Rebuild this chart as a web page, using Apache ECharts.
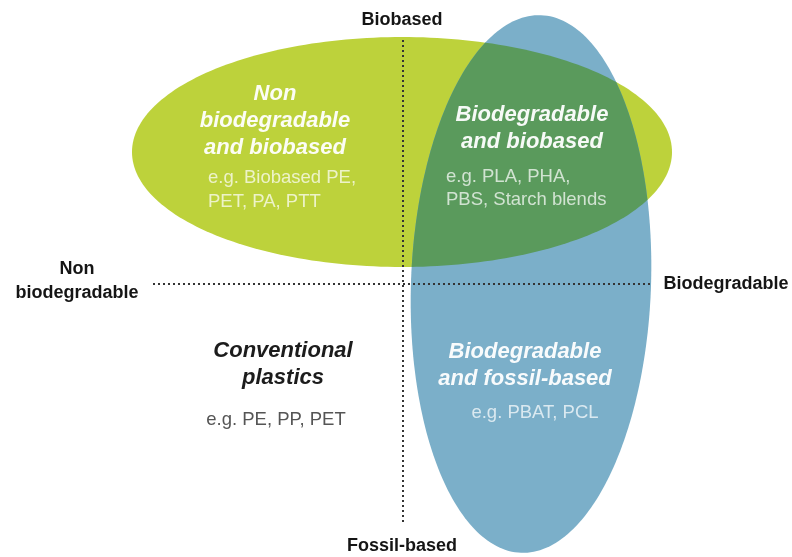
<!DOCTYPE html>
<html><head><meta charset="utf-8">
<script src="https://cdn.jsdelivr.net/npm/echarts@6/dist/echarts.min.js"></script>
<style>html,body{margin:0;padding:0;background:#fff}#c{width:792px;height:557px}</style>
</head><body><div id="c"></div>
<script>
// Ellipses: [centerX, centerY, radiusX, radiusY, rotationDeg] in diagram units
const greenEllipse = [402, 152, 270, 115, 0];
const blueEllipse = [531, 284, 120, 269, 2.1];
// Dotted axes
const verticalAxis = [[403, 40], [403, 525]];
const horizontalAxis = [[153, 284], [650, 284]];
// Axis end labels
const axisLabels = ['Biobased', 'Non\nbiodegradable', 'Biodegradable', 'Fossil-based'];
const axisLabelPos = [[402, 20], [77, 281], [726, 284], [402, 546]];
// Quadrant titles
const titles = ['Non\nbiodegradable\nand biobased', 'Biodegradable\nand biobased', 'Conventional\nplastics', 'Biodegradable\nand fossil-based'];
const titlePos = [[275, 121], [532, 128], [283, 364], [525, 365]];
// Examples
const examples = ['e.g. Biobased PE,\nPET, PA, PTT', 'e.g. PLA, PHA,\nPBS, Starch blends', 'e.g. PE, PP, PET', 'e.g. PBAT, PCL'];
const examplePos = [[208, 190], [446, 188.5], [276, 420], [535, 413]];

const FONT = "'Liberation Sans', Arial, Helvetica, sans-serif";
const ellipseColors = ['#bdd23b', '#7bafc9'];
const overlapColor = '#5a9a5c';

function ellipsePoints(e, n) {
  const [cx, cy, rx, ry, rot] = e;
  const th = rot * Math.PI / 180, c = Math.cos(th), s = Math.sin(th);
  const pts = [];
  for (let i = 0; i < n; i++) {
    const t = 2 * Math.PI * i / n;
    const ex = rx * Math.cos(t), ey = ry * Math.sin(t);
    pts.push([cx + ex * c - ey * s, cy + ex * s + ey * c]);
  }
  return pts;
}
function clipPoly(subject, clip) {
  let out = subject;
  for (let i = 0; i < clip.length; i++) {
    const a = clip[i], b = clip[(i + 1) % clip.length];
    const inside = p => (b[0] - a[0]) * (p[1] - a[1]) - (b[1] - a[1]) * (p[0] - a[0]) >= 0;
    const inter = (p, q) => {
      const x1 = p[0], y1 = p[1], x2 = q[0], y2 = q[1];
      const x3 = a[0], y3 = a[1], x4 = b[0], y4 = b[1];
      const d = (x1 - x2) * (y3 - y4) - (y1 - y2) * (x3 - x4);
      const t = ((x1 - x3) * (y3 - y4) - (y1 - y3) * (x3 - x4)) / d;
      return [x1 + t * (x2 - x1), y1 + t * (y2 - y1)];
    };
    const inp = out; out = [];
    for (let j = 0; j < inp.length; j++) {
      const cur = inp[j], prev = inp[(j + inp.length - 1) % inp.length];
      const ci = inside(cur), pi = inside(prev);
      if (ci) { if (!pi) out.push(inter(prev, cur)); out.push(cur); }
      else if (pi) out.push(inter(prev, cur));
    }
    if (!out.length) break;
  }
  return out;
}

const chart = echarts.init(document.getElementById('c'), null, {renderer: 'canvas'});

const textItems = [];
axisLabels.forEach((t, i) => textItems.push([axisLabelPos[i][0], axisLabelPos[i][1], 0, i]));
titles.forEach((t, i) => textItems.push([titlePos[i][0], titlePos[i][1], 1, i]));
examples.forEach((t, i) => textItems.push([examplePos[i][0], examplePos[i][1], 2, i]));

function textStyleFor(kind, i) {
  if (kind === 0) return {text: axisLabels[i], font: 'bold 18px ' + FONT, fill: '#151515', align: 'center', lineHeight: 24};
  if (kind === 1) return {text: titles[i], font: 'italic bold 22px ' + FONT, fill: i === 2 ? '#1c1c1c' : 'rgba(255,255,255,0.95)', align: 'center', lineHeight: 27};
  return {text: examples[i], font: '18.5px ' + FONT, fill: i === 2 ? '#555555' : 'rgba(255,255,255,0.72)', align: (i < 2 ? 'left' : 'center'), lineHeight: 23.5};
}

chart.setOption({
  animation: false,
  backgroundColor: '#ffffff',
  grid: {left: 0, right: 0, top: 0, bottom: 0},
  xAxis: {type: 'value', min: 0, max: 792, show: false},
  yAxis: {type: 'value', min: 0, max: 557, inverse: true, show: false},
  series: [
    {
      type: 'custom', coordinateSystem: 'cartesian2d', silent: true,
      data: [greenEllipse, blueEllipse],
      renderItem: (params, api) => {
        const e = [api.value(0), api.value(1), api.value(2), api.value(3), api.value(4)];
        const pts = ellipsePoints(e, 240).map(p => api.coord(p));
        return {type: 'polygon', shape: {points: pts}, style: {fill: ellipseColors[params.dataIndex]}};
      },
      z: 1
    },
    {
      type: 'custom', coordinateSystem: 'cartesian2d', silent: true,
      data: [[greenEllipse[0], greenEllipse[1]]],
      renderItem: (params, api) => {
        const inter = clipPoly(ellipsePoints(greenEllipse, 240), ellipsePoints(blueEllipse, 240));
        return {type: 'polygon', shape: {points: inter.map(p => api.coord(p))}, style: {fill: overlapColor}};
      },
      z: 2
    },
    {
      type: 'line', data: verticalAxis, symbol: 'none', silent: true, z: 3,
      lineStyle: {color: '#333', width: 2, type: [2, 3]}
    },
    {
      type: 'line', data: horizontalAxis, symbol: 'none', silent: true, z: 3,
      lineStyle: {color: '#333', width: 2, type: [2, 3]}
    },
    {
      type: 'custom', coordinateSystem: 'cartesian2d', silent: true, z: 4,
      data: textItems,
      renderItem: (params, api) => {
        const p = api.coord([api.value(0), api.value(1)]);
        const st = textStyleFor(api.value(2), api.value(3));
        return {
          type: 'text', x: p[0], y: p[1],
          style: Object.assign(st, {verticalAlign: 'middle', textAlign: st.align, textVerticalAlign: 'middle'})
        };
      }
    }
  ]
});
</script></body></html>
